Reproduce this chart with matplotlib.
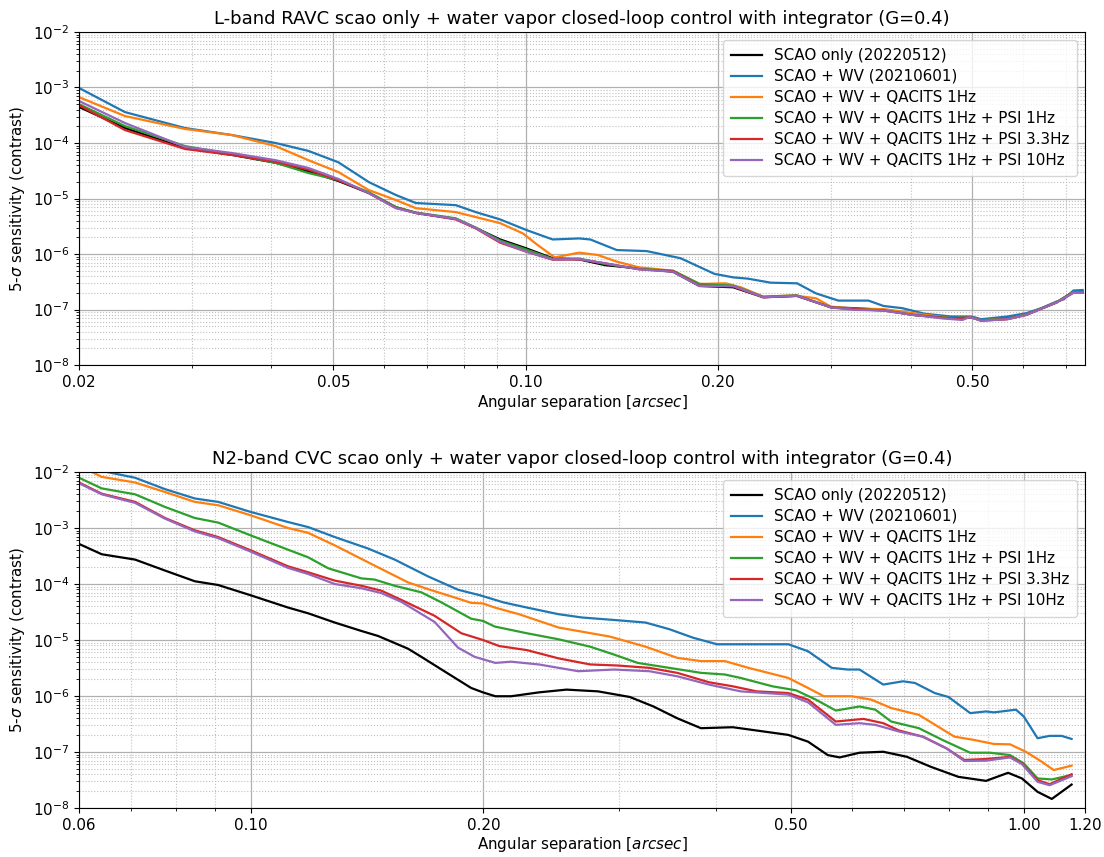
import matplotlib
matplotlib.use('Agg')
import matplotlib.pyplot as plt
from matplotlib.ticker import NullFormatter, LogLocator

labels = ['SCAO only (20220512)', 'SCAO + WV (20210601)', 'SCAO + WV + QACITS 1Hz',
          'SCAO + WV + QACITS 1Hz + PSI 1Hz', 'SCAO + WV + QACITS 1Hz + PSI 3.3Hz',
          'SCAO + WV + QACITS 1Hz + PSI 10Hz']
colors = ['black', '#1f77b4', '#ff7f0e', '#2ca02c', '#d62728', '#9467bd']

# --- L-band RAVC (top) ---
l_x = [0.020, 0.0236, 0.0293, 0.0347, 0.0406, 0.0457, 0.0509, 0.0568, 0.0626, 0.0673,
       0.0777, 0.0835, 0.0912, 0.1003, 0.1102, 0.1212, 0.1332, 0.1505, 0.170, 0.187,
       0.2111, 0.2353, 0.2658, 0.3002, 0.3256, 0.3629, 0.4044, 0.4629, 0.4985, 0.5159,
       0.567, 0.607, 0.6765, 0.7189, 0.7436]
l_scao = [4.46e-4, 1.86e-4, 8.1e-5, 6.1e-5, 4.4e-5, 3.1e-5, 2.07e-5, 1.26e-5, 7.0e-6, 5.5e-6,
          4.3e-6, 2.95e-6, 1.83e-6, 1.26e-6, 8.4e-7, 8.0e-7, 6.3e-7, 5.5e-7, 4.8e-7, 2.66e-7,
          2.52e-7, 1.67e-7, 1.76e-7, 1.10e-7, 1.06e-7, 9.9e-8, 8.0e-8, 7.1e-8, 7.3e-8, 6.5e-8,
          7.0e-8, 8.2e-8, 1.34e-7, 2.1e-7, 2.1e-7]
l_green = [5.0e-4, 2.02e-4, 8.8e-5, 6.3e-5, 4.4e-5, 2.88e-5, 2.15e-5, 1.3e-5, 7.0e-6, 5.6e-6,
           4.4e-6, 3.0e-6, 1.75e-6, 1.2e-6, 8.2e-7, 8.3e-7, 6.6e-7, 5.4e-7, 5.0e-7, 2.9e-7,
           2.7e-7, 1.7e-7, 1.8e-7, 1.1e-7, 1.02e-7, 9.7e-8, 8.0e-8, 7.0e-8, 7.2e-8, 6.4e-8,
           6.8e-8, 8.1e-8, 1.35e-7, 2.05e-7, 2.05e-7]
l_red = [4.8e-4, 1.71e-4, 7.8e-5, 6.1e-5, 4.6e-5, 3.3e-5, 2.15e-5, 1.25e-5, 6.8e-6, 5.5e-6,
         4.2e-6, 2.9e-6, 1.6e-6, 1.1e-6, 7.9e-7, 8.0e-7, 6.8e-7, 5.3e-7, 4.9e-7, 2.7e-7,
         2.6e-7, 1.66e-7, 1.77e-7, 1.1e-7, 1.02e-7, 9.6e-8, 8.0e-8, 6.9e-8, 7.2e-8, 6.3e-8,
         6.7e-8, 8.0e-8, 1.34e-7, 2.0e-7, 2.0e-7]

l_blue_x = [0.020, 0.0236, 0.0293, 0.0347, 0.0406, 0.0457, 0.0509, 0.0568, 0.0626, 0.0673,
            0.0777, 0.0835, 0.0912, 0.1003, 0.1102, 0.1212, 0.1262, 0.1388, 0.1546, 0.1747,
            0.1973, 0.2111, 0.2228, 0.2417, 0.2658, 0.2844, 0.3084, 0.3438, 0.3629, 0.3882,
            0.4210, 0.4629, 0.4985, 0.5159, 0.567, 0.607, 0.6407, 0.6765, 0.695, 0.7189, 0.7436]
l_blue = [9.8e-4, 3.6e-4, 1.86e-4, 1.39e-4, 1.0e-4, 7.2e-5, 4.5e-5, 1.98e-5, 1.16e-5, 8.3e-6,
          7.6e-6, 5.7e-6, 4.2e-6, 2.7e-6, 1.83e-6, 1.91e-6, 1.83e-6, 1.18e-6, 1.13e-6, 8.4e-7,
          4.4e-7, 3.8e-7, 3.6e-7, 3.05e-7, 2.97e-7, 1.96e-7, 1.45e-7, 1.45e-7, 1.16e-7, 1.06e-7,
          8.4e-8, 7.5e-8, 7.5e-8, 6.7e-8, 7.5e-8, 8.6e-8, 1.06e-7, 1.39e-7, 1.53e-7, 2.2e-7, 2.25e-7]

l_orange_x = [0.020, 0.0236, 0.0293, 0.0347, 0.0406, 0.0457, 0.0509, 0.0568, 0.0626, 0.0673,
              0.0777, 0.0912, 0.099, 0.1044, 0.111, 0.1212, 0.1297, 0.1388, 0.1505, 0.170,
              0.187, 0.2055, 0.217, 0.2353, 0.262, 0.2844, 0.3002, 0.3256, 0.3629, 0.4044,
              0.4629, 0.4985, 0.5159, 0.567, 0.607, 0.6765, 0.7189, 0.7436]
l_orange = [6.7e-4, 3.06e-4, 1.79e-4, 1.39e-4, 8.8e-5, 4.9e-5, 3.0e-5, 1.42e-5, 9.4e-6, 6.7e-6,
            5.7e-6, 3.6e-6, 2.35e-6, 1.45e-6, 8.7e-7, 1.06e-6, 9.6e-7, 7.3e-7, 5.75e-7, 5.0e-7,
            2.89e-7, 2.97e-7, 2.52e-7, 1.71e-7, 1.8e-7, 1.6e-7, 1.13e-7, 1.04e-7, 1.02e-7, 8.6e-8,
            7.0e-8, 7.2e-8, 6.4e-8, 6.8e-8, 8.1e-8, 1.34e-7, 2.05e-7, 2.05e-7]

l_purple_x = [0.020, 0.0236, 0.0293, 0.0347, 0.0406, 0.0457, 0.0509, 0.0568, 0.0626, 0.0673,
              0.0777, 0.0835, 0.0912, 0.1003, 0.1102, 0.1212, 0.1332, 0.1505, 0.170, 0.187,
              0.2111, 0.2353, 0.2658, 0.3002, 0.3256, 0.3629, 0.4044, 0.45, 0.482, 0.495,
              0.5159, 0.567, 0.607, 0.6765, 0.7189, 0.7436]
l_purple = [5.7e-4, 2.29e-4, 8.5e-5, 6.6e-5, 4.9e-5, 3.55e-5, 2.25e-5, 1.26e-5, 6.7e-6, 5.5e-6,
            4.3e-6, 2.95e-6, 1.67e-6, 1.1e-6, 8.0e-7, 8.1e-7, 6.8e-7, 5.3e-7, 4.8e-7, 2.66e-7,
            2.66e-7, 1.67e-7, 1.78e-7, 1.09e-7, 9.9e-8, 9.6e-8, 8.0e-8, 6.9e-8, 6.5e-8, 7.3e-8,
            6.3e-8, 6.7e-8, 8.0e-8, 1.34e-7, 2.0e-7, 2.0e-7]

# --- N2-band CVC (bottom) ---
n_scao_x = [0.060, 0.0642, 0.0709, 0.0775, 0.0847, 0.0908, 0.100, 0.1118, 0.1187, 0.1285,
            0.1391, 0.1462, 0.1598, 0.1663, 0.1800, 0.1929, 0.1998, 0.2073, 0.2173, 0.2359,
            0.2562, 0.2814, 0.3094, 0.3319, 0.3563, 0.3824, 0.4203, 0.4512, 0.4959, 0.526,
            0.5578, 0.578, 0.6131, 0.658, 0.7062, 0.7579, 0.8229, 0.8937, 0.9543, 0.9945,
            1.042, 1.087, 1.153]
n_scao = [5.2e-4, 3.4e-4, 2.73e-4, 1.74e-4, 1.12e-4, 9.6e-5, 6.3e-5, 3.8e-5, 3.0e-5, 2.05e-5,
          1.45e-5, 1.18e-5, 7.0e-6, 5.0e-6, 2.52e-6, 1.39e-6, 1.16e-6, 9.9e-7, 9.9e-7, 1.16e-6,
          1.3e-6, 1.21e-6, 9.6e-7, 6.5e-7, 4.0e-7, 2.66e-7, 2.77e-7, 2.42e-7, 2.02e-7, 1.53e-7,
          8.8e-8, 8.0e-8, 9.7e-8, 1.01e-7, 8.2e-8, 5.45e-8, 3.6e-8, 3.05e-8, 4.25e-8, 3.37e-8,
          1.94e-8, 1.45e-8, 2.62e-8]

n_blue_x = [0.060, 0.0655, 0.0709, 0.0775, 0.0847, 0.0908, 0.100, 0.1118, 0.1187, 0.1285,
            0.1419, 0.1536, 0.1696, 0.1855, 0.198, 0.2123, 0.2277, 0.2502, 0.2686, 0.2986,
            0.3242, 0.3480, 0.3734, 0.4009, 0.4512, 0.4959, 0.526, 0.5645, 0.5918, 0.6131,
            0.658, 0.6979, 0.723, 0.7669, 0.7991, 0.8525, 0.8937, 0.9151, 0.977, 1.0,
            1.042, 1.080, 1.119, 1.153]
n_blue = [1.3e-2, 9.9e-3, 7.9e-3, 4.95e-3, 3.37e-3, 2.93e-3, 1.94e-3, 1.28e-3, 1.04e-3, 6.9e-4,
          4.3e-4, 2.73e-4, 1.37e-4, 7.9e-5, 6.3e-5, 4.7e-5, 3.8e-5, 2.89e-5, 2.52e-5, 2.25e-5,
          2.05e-5, 1.56e-5, 1.10e-5, 8.4e-6, 8.4e-6, 8.4e-6, 6.3e-6, 3.18e-6, 2.97e-6, 2.97e-6,
          1.6e-6, 1.83e-6, 1.71e-6, 1.13e-6, 9.6e-7, 4.95e-7, 5.3e-7, 5.1e-7, 5.7e-7, 4.3e-7,
          1.76e-7, 1.94e-7, 1.94e-7, 1.71e-7]

n_orange_x = [0.062, 0.0642, 0.0709, 0.0775, 0.0847, 0.0908, 0.100, 0.1118, 0.1187, 0.1285,
              0.1447, 0.1598, 0.1696, 0.1855, 0.1929, 0.1998, 0.2069, 0.2224, 0.2502, 0.2916,
              0.3242, 0.3563, 0.3824, 0.4105, 0.4406, 0.4959, 0.526, 0.5513, 0.599, 0.635,
              0.6737, 0.7317, 0.8133, 0.8626, 0.9151, 0.9598, 1.006, 1.055, 1.093, 1.153]
n_orange = [1.04e-2, 8.2e-3, 6.5e-3, 4.4e-3, 2.93e-3, 2.55e-3, 1.69e-3, 1.0e-3, 8.2e-4, 4.9e-4,
            2.13e-4, 1.07e-4, 8.1e-5, 5.5e-5, 4.6e-5, 4.5e-5, 3.8e-5, 2.89e-5, 1.67e-5, 1.15e-5,
            7.6e-6, 4.8e-6, 4.2e-6, 4.2e-6, 3.18e-6, 2.1e-6, 1.39e-6, 9.9e-7, 9.9e-7, 8.6e-7,
            6.1e-7, 4.6e-7, 1.88e-7, 1.64e-7, 1.39e-7, 1.37e-7, 1.01e-7, 6.7e-8, 4.75e-8, 5.7e-8]

n_green_x = [0.060, 0.0642, 0.0709, 0.0775, 0.0847, 0.0908, 0.100, 0.1118, 0.1187, 0.1260,
             0.1391, 0.1447, 0.1536, 0.1663, 0.1765, 0.1929, 0.1998, 0.2069, 0.2277, 0.2502,
             0.2749, 0.2951, 0.3167, 0.3480, 0.3824, 0.4105, 0.4304, 0.473, 0.5077, 0.5385,
             0.5713, 0.6131, 0.6427, 0.6737, 0.7317, 0.785, 0.8525, 0.9043, 0.9598, 1.0,
             1.042, 1.087, 1.153]
n_green = [7.9e-3, 5.1e-3, 4.0e-3, 2.38e-3, 1.51e-3, 1.25e-3, 7.4e-4, 4.1e-4, 3.0e-4, 1.91e-4,
           1.26e-4, 1.20e-4, 9.3e-5, 7.1e-5, 4.7e-5, 2.4e-5, 2.19e-5, 1.74e-5, 1.32e-5, 1.03e-5,
           7.6e-6, 5.5e-6, 3.9e-6, 3.18e-6, 2.59e-6, 2.42e-6, 2.1e-6, 1.49e-6, 1.26e-6, 8.6e-7,
           5.5e-7, 6.5e-7, 5.7e-7, 3.5e-7, 2.66e-7, 1.64e-7, 9.7e-8, 9.7e-8, 8.8e-8, 6.25e-8,
           3.37e-8, 3.23e-8, 3.9e-8]

n_red_x = [0.060, 0.0642, 0.0709, 0.0775, 0.0847, 0.0908, 0.100, 0.1118, 0.1187, 0.1285,
           0.1391, 0.1476, 0.1567, 0.1730, 0.1873, 0.1998, 0.2097, 0.2277, 0.2502, 0.2749,
           0.2986, 0.3280, 0.3563, 0.3916, 0.4203, 0.4512, 0.4959, 0.526, 0.5713, 0.6204,
           0.658, 0.6897, 0.7403, 0.7944, 0.8376, 0.8937, 0.9598, 0.9945, 1.042, 1.080, 1.153]
n_red = [6.5e-3, 4.1e-3, 2.93e-3, 1.51e-3, 9.1e-4, 6.9e-4, 4.0e-4, 2.07e-4, 1.62e-4, 1.15e-4,
         9.3e-5, 7.6e-5, 5.2e-5, 2.7e-5, 1.32e-5, 1.0e-5, 7.8e-6, 6.6e-6, 4.7e-6, 3.66e-6,
         3.5e-6, 3.18e-6, 2.59e-6, 1.76e-6, 1.49e-6, 1.21e-6, 1.13e-6, 8.6e-7, 3.5e-7, 3.9e-7,
         3.27e-7, 2.42e-7, 1.88e-7, 1.16e-7, 7.2e-8, 7.5e-8, 8.2e-8, 6.25e-8, 3.14e-8, 2.66e-8, 4.0e-8]

n_purple_x = [0.060, 0.0642, 0.0709, 0.0775, 0.0847, 0.0908, 0.100, 0.1118, 0.1187, 0.1285,
              0.1391, 0.1476, 0.1567, 0.1730, 0.1855, 0.1949, 0.2073, 0.2173, 0.2359, 0.2654,
              0.2951, 0.3280, 0.3563, 0.3916, 0.4304, 0.4959, 0.526, 0.5713, 0.6131, 0.6427,
              0.6897, 0.7403, 0.7944, 0.8376, 0.8937, 0.9598, 0.9945, 1.042, 1.080, 1.153]
n_purple = [6.3e-3, 4.0e-3, 2.81e-3, 1.47e-3, 8.7e-4, 6.6e-4, 3.8e-4, 1.94e-4, 1.51e-4, 1.0e-4,
            8.4e-5, 6.9e-5, 4.8e-5, 2.1e-5, 7.3e-6, 5.0e-6, 3.9e-6, 4.1e-6, 3.66e-6, 2.77e-6,
            2.97e-6, 2.77e-6, 2.25e-6, 1.6e-6, 1.21e-6, 1.06e-6, 7.7e-7, 3.05e-7, 3.27e-7, 3.05e-7,
            2.32e-7, 1.88e-7, 1.16e-7, 6.9e-8, 7.0e-8, 8.0e-8, 6.1e-8, 2.93e-8, 2.55e-8, 3.7e-8]

top_series = [(l_x, l_scao), (l_blue_x, l_blue), (l_orange_x, l_orange),
              (l_x, l_green), (l_x, l_red), (l_purple_x, l_purple)]
bot_series = [(n_scao_x, n_scao), (n_blue_x, n_blue), (n_orange_x, n_orange),
              (n_green_x, n_green), (n_red_x, n_red), (n_purple_x, n_purple)]

plt.rcParams['font.size'] = 10.9

fig = plt.figure(figsize=(11.04, 8.57), dpi=100)
ax1 = fig.add_axes([0.0716, 0.574, 0.9112, 0.3887])
ax2 = fig.add_axes([0.0716, 0.0572, 0.9112, 0.392])


def style_axis(ax, title, xlim, xticks):
    ax.set_xscale('log')
    ax.set_yscale('log')
    ax.set_xlim(*xlim)
    ax.set_ylim(1e-8, 1e-2)
    ax.set_xticks(xticks)
    ax.set_xticklabels(['%.2f' % t for t in xticks])
    ax.xaxis.set_minor_formatter(NullFormatter())
    ax.yaxis.set_major_locator(LogLocator(base=10, numticks=10))
    ax.yaxis.set_minor_locator(LogLocator(base=10, subs=range(2, 10), numticks=100))
    ax.yaxis.set_minor_formatter(NullFormatter())
    ax.grid(which='major', linestyle='-', color='#b0b0b0', linewidth=0.9)
    ax.grid(which='minor', linestyle=':', color='#c0c0c0', linewidth=0.8)
    ax.set_axisbelow(True)
    ax.set_title(title, fontsize=13)
    ax.set_xlabel('Angular separation [$arcsec$]', labelpad=2)
    ax.set_ylabel(r'5-$\sigma$ sensitivity (contrast)')
    ax.legend(loc='upper right', fontsize=10.9, framealpha=0.8, labelspacing=0.4,
              borderpad=0.55)


for (x, y), c, lab in zip(top_series, colors, labels):
    ax1.plot(x, y, color=c, linewidth=1.6, label=lab)
for (x, y), c, lab in zip(bot_series, colors, labels):
    ax2.plot(x, y, color=c, linewidth=1.6, label=lab)

style_axis(ax1, 'L-band RAVC scao only + water vapor closed-loop control with integrator (G=0.4)',
           (0.02, 0.75), [0.02, 0.05, 0.10, 0.20, 0.50])
style_axis(ax2, 'N2-band CVC scao only + water vapor closed-loop control with integrator (G=0.4)',
           (0.06, 1.2), [0.06, 0.10, 0.20, 0.50, 1.00, 1.20])

plt.savefig('out.png', dpi=100)
